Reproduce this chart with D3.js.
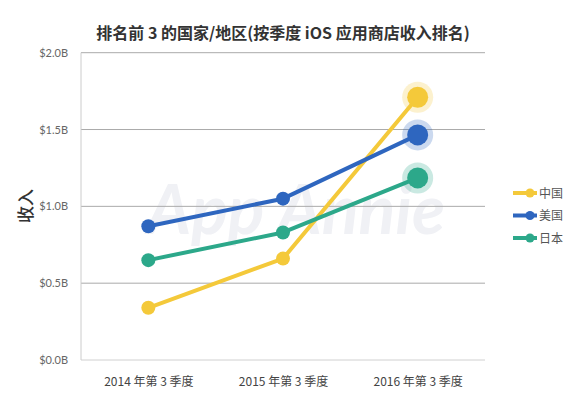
<!DOCTYPE html>
<html><head><meta charset="utf-8">
<script src="https://cdn.jsdelivr.net/npm/d3@7"></script>
<style>body{margin:0;background:#fff}svg{display:block}</style>
</head><body><svg id="c" width="584" height="407"></svg>
<script>
const categories = ["2014 年第 3 季度", "2015 年第 3 季度", "2016 年第 3 季度"];
const seriesNames = ["中国", "美国", "日本"];
const chinaValues = [0.34, 0.66, 1.71];
const usValues = [0.87, 1.05, 1.465];
const japanValues = [0.65, 0.83, 1.185];
const yTicks = [0, 0.5, 1.0, 1.5, 2.0];
const colors = ["#f4c93a", "#2e66bf", "#2ca88a"];
const title = "排名前 3 的国家/地区(按季度 iOS 应用商店收入排名)";
const yTitle = "收入";

const series = [chinaValues, usValues, japanValues].map((v, i) => ({name: seriesNames[i], values: v, color: colors[i]}));
const svg = d3.select("#c");
const m = {l: 81, r: 485, t: 52.7, b: 360};
const x = d3.scalePoint().domain(categories).range([m.l, m.r]).padding(0.5);
const y = d3.scaleLinear().domain([0, 2]).range([m.b, m.t]);
const font = "'Noto Sans CJK SC','Noto Sans',sans-serif";

// watermark
svg.append("text").attr("x", 296).attr("y", 234).attr("text-anchor", "middle")
  .attr("font-family", "Lato, 'Open Sans', sans-serif").attr("font-style", "italic").attr("font-weight", 700)
  .attr("font-size", 68).attr("fill", "#f0f1f5").text("App Annie");

// grid
svg.append("g").selectAll("line").data(yTicks).join("line")
  .attr("x1", m.l).attr("x2", m.r).attr("y1", d => y(d)).attr("y2", d => y(d))
  .attr("stroke", d => d === 0 ? "#d0d0d0" : "#aaa").attr("stroke-width", 1);
svg.append("line").attr("x1", m.l).attr("x2", m.l).attr("y1", m.t).attr("y2", m.b)
  .attr("stroke", "#ccc");

// y axis labels
const yAxis = d3.axisLeft(y).tickValues(yTicks).tickSize(0).tickPadding(13)
  .tickFormat(d => "$" + d3.format(".1f")(d) + "B");
const ga = svg.append("g").attr("transform", `translate(${m.l},0)`).call(yAxis);
ga.select(".domain").remove();
ga.selectAll("text").attr("font-family", "Lato, 'Noto Sans', sans-serif").attr("font-size", 11).attr("fill", "#666");

// x axis labels
const xAxis = d3.axisBottom(x).tickSize(0).tickPadding(17);
const gx = svg.append("g").attr("transform", `translate(0,${m.b})`).call(xAxis);
gx.select(".domain").remove();
gx.selectAll("text").attr("font-family", font).attr("font-size", 12).attr("fill", "#444");

// lines
const line = d3.line().x((d, i) => x(categories[i])).y(d => y(d));
series.forEach(s => {
  svg.append("path").attr("d", line(s.values)).attr("fill", "none")
    .attr("stroke", s.color).attr("stroke-width", 4).attr("stroke-linejoin", "round");
});
series.forEach(s => {
  const g = svg.append("g");
  const last = s.values.length - 1;
  g.append("circle").attr("cx", x(categories[last])).attr("cy", y(s.values[last]))
    .attr("r", 15.5).attr("fill", s.color).attr("opacity", 0.25);
  g.selectAll("circle.p").data(s.values).join("circle").attr("class", "p")
    .attr("cx", (d, i) => x(categories[i])).attr("cy", d => y(d))
    .attr("r", (d, i) => i === last ? 10.5 : 7).attr("fill", s.color);
});

// title
svg.append("text").attr("x", 283).attr("y", 39).attr("text-anchor", "middle")
  .attr("font-family", font).attr("font-weight", 700).attr("font-size", 16).attr("fill", "#333").text(title);

// y title
svg.append("text").attr("transform", "translate(32,206) rotate(-90)").attr("text-anchor", "middle")
  .attr("font-family", font).attr("font-weight", 500).attr("font-size", 17).attr("fill", "#333").text(yTitle);

// legend
const lg = svg.append("g").selectAll("g").data(series).join("g")
  .attr("transform", (d, i) => `translate(513,${193 + i * 22.5})`);
lg.append("line").attr("x1", 0).attr("x2", 24).attr("stroke", d => d.color).attr("stroke-width", 4);
lg.append("circle").attr("cx", 17).attr("r", 4.5).attr("fill", d => d.color);
lg.append("text").attr("x", 26).attr("y", 4.5).attr("font-family", font).attr("font-size", 12)
  .attr("fill", "#555").text(d => d.name);
</script></body></html>
